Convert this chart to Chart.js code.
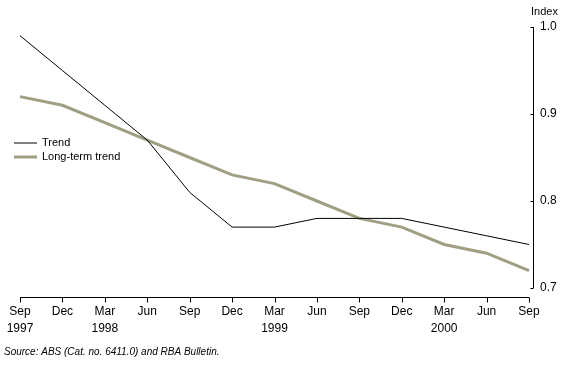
<!DOCTYPE html>
<html><head><meta charset="utf-8">
<script src="https://cdn.jsdelivr.net/npm/chart.js@4"></script>
<style>html,body{margin:0;padding:0;background:#fff}#wrap{width:567px;height:378px;position:relative}</style>
</head><body><div id="wrap"><canvas id="c" width="567" height="378"></canvas></div>
<script>
const categories = [["Sep","1997"],["Dec",""],["Mar","1998"],["Jun",""],["Sep",""],["Dec",""],["Mar","1999"],["Jun",""],["Sep",""],["Dec",""],["Mar","2000"],["Jun",""],["Sep",""]];
const trend = [0.99,0.95,0.91,0.87,0.81,0.77,0.77,0.78,0.78,0.78,0.77,0.76,0.75];
const longTermTrend = [0.92,0.91,0.89,0.87,0.85,0.83,0.82,0.80,0.78,0.77,0.75,0.74,0.72];
const yTicks = [0.7,0.8,0.9,1.0];
const seriesNames = ["Trend","Long-term trend"];
const unitLabel = "Index";
const sourceText = "Source: ABS (Cat. no. 6411.0) and RBA Bulletin.";

const FONT = "Arial, 'Liberation Sans', sans-serif";
const colors = ["#000000","#a09f83"];
const widths = [1,3];

const axesPlugin = {
  id:'axesPlugin',
  afterDraw(chart){
    const ctx = chart.ctx, ca = chart.chartArea;
    const xs = chart.scales.x, ys = chart.scales.y;
    ctx.save();
    ctx.strokeStyle = '#000'; ctx.lineWidth = 1;
    const xy = Math.round(ca.bottom + 9) + 0.5;
    ctx.beginPath();
    ctx.moveTo(xs.getPixelForValue(0), xy);
    ctx.lineTo(xs.getPixelForValue(categories.length-1), xy);
    for (let i=0;i<categories.length;i++){
      const px = Math.round(xs.getPixelForValue(i)) + 0.5;
      ctx.moveTo(px, xy); ctx.lineTo(px, xy+5);
    }
    ctx.stroke();
    const yx = Math.round(ca.right + 4) + 0.5;
    ctx.beginPath();
    ctx.moveTo(yx, ys.getPixelForValue(yTicks[yTicks.length-1]));
    ctx.lineTo(yx, ys.getPixelForValue(yTicks[0]));
    for (const v of yTicks){
      const py = Math.round(ys.getPixelForValue(v)) + 0.5;
      ctx.moveTo(yx-3, py); ctx.lineTo(yx, py);
    }
    ctx.stroke();
    ctx.fillStyle = '#000';
    ctx.font = '11px ' + FONT;
    ctx.textBaseline = 'middle'; ctx.textAlign = 'left';
    ctx.fillText(unitLabel, 531, 12);
    const ly = [143, 157];
    for (let i=0;i<2;i++){
      ctx.beginPath();
      ctx.strokeStyle = colors[i]; ctx.lineWidth = widths[i];
      ctx.moveTo(14, ly[i]); ctx.lineTo(37, ly[i]);
      ctx.stroke();
      ctx.fillText(chart.data.datasets[i].label, 42, ly[i]);
    }
    ctx.font = 'italic 10px ' + FONT;
    ctx.fillText(sourceText, 4, 352);
    ctx.restore();
  }
};

new Chart(document.getElementById('c'), {
  type:'line',
  data:{
    labels: categories,
    datasets:[
      {label:seriesNames[0], data:trend, borderColor:colors[0], borderWidth:widths[0], pointRadius:0, tension:0, fill:false},
      {label:seriesNames[1], data:longTermTrend, borderColor:colors[1], borderWidth:widths[1], pointRadius:0, tension:0, fill:false}
    ]
  },
  options:{
    responsive:false, animation:false, devicePixelRatio:1,
    layout:{padding:{left:20, top:27, right:0, bottom:0}},
    plugins:{legend:{display:false}, tooltip:{enabled:false}},
    scales:{
      x:{
        offset:false,
        grid:{display:false, drawTicks:false}, border:{display:false},
        ticks:{color:'#000', font:{family:FONT, size:12, lineHeight:1.35}, maxRotation:0, autoSkip:false, padding:16},
        afterFit(s){ s.height = 90; s.paddingLeft = 0; s.paddingRight = 0; }
      },
      y:{
        position:'right', min:0.7, max:1.0,
        grid:{display:false, drawTicks:false}, border:{display:false},
        afterBuildTicks(s){ s.ticks = yTicks.map(v=>({value:v})); },
        ticks:{color:'#000', font:{family:FONT, size:12}, padding:11, callback:v=>v.toFixed(1)},
        afterFit(s){ s.width = 38; s.paddingTop = 0; s.paddingBottom = 0; }
      }
    }
  },
  plugins:[axesPlugin]
});
</script></body></html>
